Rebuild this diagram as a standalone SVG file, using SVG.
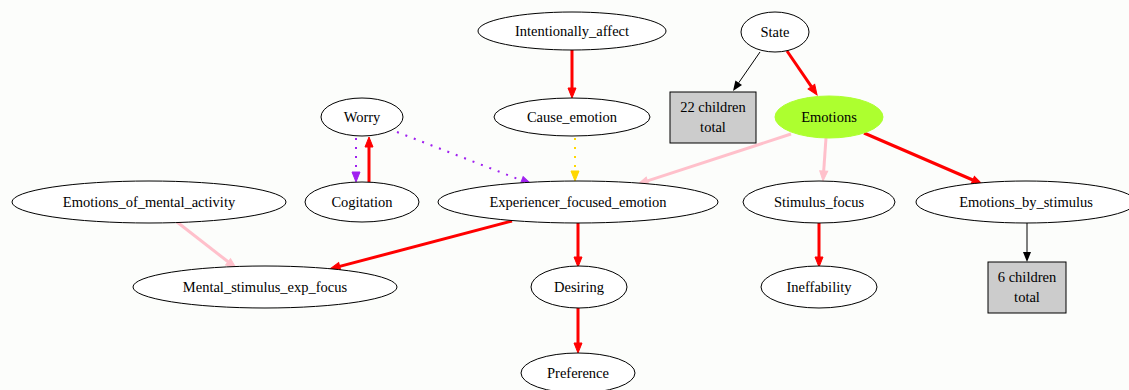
<svg xmlns="http://www.w3.org/2000/svg" width="1129" height="390" viewBox="0 0 1129 390">
  <defs>
    <style>
      .bg { fill: #fcfdfb; }
      .node ellipse { fill: #ffffff; stroke: #000000; stroke-width: 1; }
      .node rect { fill: #cccccc; stroke: #000000; stroke-width: 1; }
      .node ellipse.hl { fill: #adff2f; stroke: #adff2f; }
      .node text { font-family: 'Liberation Serif', 'Times New Roman', 'DejaVu Serif', serif; font-size: 14.5px; fill: #000000; text-anchor: middle; }
      .e { fill: none; }
      .black { stroke: #000000; stroke-width: 1; }
      .red { stroke: #ff0000; stroke-width: 3; }
      .pink { stroke: #ffc0cb; stroke-width: 3; }
      .purple { stroke: #a020f0; stroke-width: 2; stroke-dasharray: 2 7; }
      .gold { stroke: #ffd700; stroke-width: 2; stroke-dasharray: 2 7; }
    </style>
    <marker id="a-black" markerUnits="userSpaceOnUse" markerWidth="10" markerHeight="8" refX="0" refY="4" orient="auto" overflow="visible">
      <path d="M0,0 L10,4 L0,8 z" fill="#000000"/>
    </marker>
    <marker id="a-red" markerUnits="userSpaceOnUse" markerWidth="10" markerHeight="8" refX="0" refY="4" orient="auto" overflow="visible">
      <path d="M0,0 L10,4 L0,8 z" fill="#ff0000" stroke="#ff0000" stroke-width="1"/>
    </marker>
    <marker id="a-pink" markerUnits="userSpaceOnUse" markerWidth="10" markerHeight="8" refX="0" refY="4" orient="auto" overflow="visible">
      <path d="M0,0 L10,4 L0,8 z" fill="#ffc0cb" stroke="#ffc0cb" stroke-width="1"/>
    </marker>
    <marker id="a-purple" markerUnits="userSpaceOnUse" markerWidth="10" markerHeight="8" refX="0" refY="4" orient="auto" overflow="visible">
      <path d="M0,0 L10,4 L0,8 z" fill="#a020f0" stroke="#a020f0" stroke-width="1"/>
    </marker>
    <marker id="a-gold" markerUnits="userSpaceOnUse" markerWidth="10" markerHeight="8" refX="0" refY="4" orient="auto" overflow="visible">
      <path d="M0,0 L10,4 L0,8 z" fill="#ffd700" stroke="#ffd700" stroke-width="1"/>
    </marker>
  </defs>

  <rect class="bg" x="0" y="0" width="1129" height="390"/>

  <!-- connectors -->
  <g id="edges">
    <path class="e black" d="M760,52 L738.7,82.8" marker-end="url(#a-black)"/>
    <path class="e red" d="M787,51 L811.4,86.7" marker-end="url(#a-red)"/>
    <path class="e red" d="M572,50 L572,88" marker-end="url(#a-red)"/>
    <path class="e gold" d="M575,138 L575,171" marker-end="url(#a-gold)"/>
    <path class="e purple" d="M356,138 L356,172" marker-end="url(#a-purple)"/>
    <path class="e red" d="M369,182 L369,147" marker-end="url(#a-red)"/>
    <path class="e purple" d="M397,132 L521.7,180.4" marker-end="url(#a-purple)"/>
    <path class="e pink" d="M791,134 L647.5,180.9" marker-end="url(#a-pink)"/>
    <path class="e pink" d="M826,138 L823.7,171" marker-end="url(#a-pink)"/>
    <path class="e red" d="M864,133 L972.8,180" marker-end="url(#a-red)"/>
    <path class="e black" d="M1027,223 L1027,252" marker-end="url(#a-black)"/>
    <path class="e red" d="M819,223 L819,257" marker-end="url(#a-red)"/>
    <path class="e pink" d="M177,222 L228.1,261.8" marker-end="url(#a-pink)"/>
    <path class="e red" d="M512,221 L339.7,266.4" marker-end="url(#a-red)"/>
    <path class="e red" d="M578,223 L578,257" marker-end="url(#a-red)"/>
    <path class="e red" d="M578,308 L578,343" marker-end="url(#a-red)"/>
  </g>

  <!-- nodes -->
  <g id="node-intentionally-affect" class="node">
    <ellipse cx="572" cy="31" rx="94" ry="19"/>
    <text x="572" y="36">Intentionally_affect</text>
  </g>
  <g id="node-state" class="node">
    <ellipse cx="775" cy="32" rx="34" ry="20"/>
    <text x="775" y="37">State</text>
  </g>
  <g id="node-22-children" class="node">
    <rect x="670" y="92" width="86" height="51"/>
    <text x="713" y="112">22 children</text>
    <text x="713" y="132">total</text>
  </g>
  <g id="node-emotions" class="node">
    <ellipse class="hl" cx="829" cy="117" rx="54" ry="21"/>
    <text x="829" y="122">Emotions</text>
  </g>
  <g id="node-cause-emotion" class="node">
    <ellipse cx="572" cy="117" rx="78" ry="19"/>
    <text x="572" y="122">Cause_emotion</text>
  </g>
  <g id="node-worry" class="node">
    <ellipse cx="362" cy="117" rx="41" ry="19"/>
    <text x="362" y="122">Worry</text>
  </g>
  <g id="node-cogitation" class="node">
    <ellipse cx="362" cy="202" rx="57" ry="20"/>
    <text x="362" y="207">Cogitation</text>
  </g>
  <g id="node-experiencer-focused-emotion" class="node">
    <ellipse cx="578" cy="202" rx="140" ry="21"/>
    <text x="578" y="207">Experiencer_focused_emotion</text>
  </g>
  <g id="node-emotions-of-mental-activity" class="node">
    <ellipse cx="149" cy="202" rx="137" ry="21"/>
    <text x="149" y="207">Emotions_of_mental_activity</text>
  </g>
  <g id="node-stimulus-focus" class="node">
    <ellipse cx="819" cy="202" rx="76" ry="21"/>
    <text x="819" y="207">Stimulus_focus</text>
  </g>
  <g id="node-emotions-by-stimulus" class="node">
    <ellipse cx="1026" cy="202" rx="110" ry="21"/>
    <text x="1026" y="207">Emotions_by_stimulus</text>
  </g>
  <g id="node-6-children" class="node">
    <rect x="988" y="262" width="78" height="51"/>
    <text x="1027" y="282">6 children</text>
    <text x="1027" y="302">total</text>
  </g>
  <g id="node-mental-stimulus-exp-focus" class="node">
    <ellipse cx="265" cy="287" rx="132" ry="21"/>
    <text x="265" y="292">Mental_stimulus_exp_focus</text>
  </g>
  <g id="node-desiring" class="node">
    <ellipse cx="579" cy="287" rx="48" ry="21"/>
    <text x="579" y="292">Desiring</text>
  </g>
  <g id="node-ineffability" class="node">
    <ellipse cx="819" cy="287" rx="58" ry="21"/>
    <text x="819" y="292">Ineffability</text>
  </g>
  <g id="node-preference" class="node">
    <ellipse cx="578" cy="373" rx="57" ry="20"/>
    <text x="578" y="378">Preference</text>
  </g>
</svg>
